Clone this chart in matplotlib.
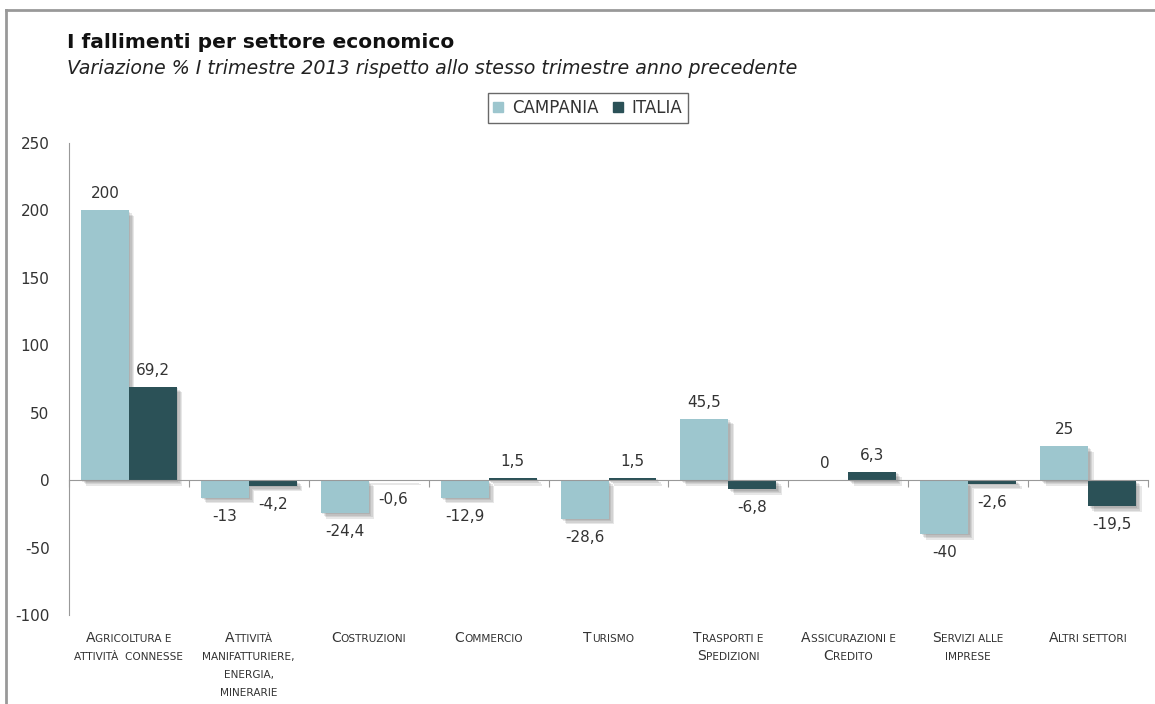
import matplotlib
matplotlib.use("Agg")
import matplotlib.pyplot as plt
import matplotlib.patheffects as pe
from matplotlib import font_manager
from matplotlib.ft2font import FT2Font, Kerning
from matplotlib.lines import Line2D
from matplotlib.transforms import offset_copy

plt.rcParams["font.family"] = ["DejaVu Sans"]
plt.rcParams["axes.unicode_minus"] = False

settori = ["Agricoltura e\nattività  connesse", "Attività\nmanifatturiere,\nenergia,\nminerarie",
           "Costruzioni", "Commercio", "Turismo", "Trasporti e\nSpedizioni",
           "Assicurazioni e\nCredito", "Servizi alle\nimprese", "Altri settori"]
campania = [200, -13, -24.4, -12.9, -28.6, 45.5, 0, -40, 25]
italia = [69.2, -4.2, -0.6, 1.5, 1.5, -6.8, 6.3, -2.6, -19.5]
yticks = [-100, -50, 0, 50, 100, 150, 200, 250]

col_camp = "#9dc6ce"
col_ita = "#2b5157"
testo = "#333333"

fig = plt.figure(figsize=(11.55, 7.04), dpi=100)
ax = fig.add_axes([0.0597, 0.1264, 0.9343, 0.6706])

# ombra morbida: piu' strati sfalsati e trasparenti
ombra = [pe.SimplePatchShadow(offset=(d, -d), shadow_rgbFace="#555555", alpha=0.14)
         for d in (1, 2, 3, 4)] + [pe.Normal()]
x = list(range(len(settori)))
w = 0.4
b1 = ax.bar([i - w / 2 for i in x], campania, w, color=col_camp, path_effects=ombra, zorder=2)
b2 = ax.bar([i + w / 2 for i in x], italia, w, color=col_ita, path_effects=ombra, zorder=2)


def etichetta(v):
    return f"{v:g}".replace(".", ",")


# etichette dei valori sopra/sotto le barre
for barre, valori in ((b1, campania), (b2, italia)):
    for r, v in zip(barre, valori):
        cx = r.get_x() + r.get_width() / 2
        if v >= 0:
            ax.annotate(etichetta(v), (cx, v), xytext=(0, 9), textcoords="offset pixels",
                        ha="center", va="bottom", fontsize=11, color=testo)
        else:
            ax.annotate(etichetta(v), (cx, v), xytext=(0, -11), textcoords="offset pixels",
                        ha="center", va="top", fontsize=11, color=testo)

ax.set_xlim(-0.5, len(settori) - 0.5)
ax.set_ylim(-100, 250)
ax.set_yticks(yticks)
ax.tick_params(axis="y", length=0, pad=14, labelsize=11, labelcolor=testo)
ax.set_xticks([i - 0.5 for i in range(len(settori) + 1)])
ax.tick_params(axis="x", direction="out", length=5, color="#999999", labelbottom=False)
for s in ("top", "right"):
    ax.spines[s].set_visible(False)
ax.spines["bottom"].set_position(("data", 0))
ax.spines["bottom"].set_color("#999999")
ax.spines["bottom"].set_zorder(3)
ax.spines["left"].set_color("#999999")

# nomi dei settori in maiuscoletto: larghezze dagli avanzamenti dei glifi
base = ax.get_xaxis_transform()
font = FT2Font(font_manager.findfont(font_manager.FontProperties(family="DejaVu Sans")))


def avanzamento(s, size):
    font.set_size(size, fig.dpi)
    tot = 0.0
    prec = None
    for c in s:
        g = font.get_char_index(ord(c))
        if prec is not None:
            tot += font.get_kerning(prec, g, Kerning.DEFAULT) / 64
        tot += font.load_char(ord(c)).linearHoriAdvance / 65536
        prec = g
    return tot


def crenatura(a, b, size):
    font.set_size(size, fig.dpi)
    return font.get_kerning(font.get_char_index(ord(a)), font.get_char_index(ord(b)),
                            Kerning.DEFAULT) / 64


def maiuscoletto(xc, riga, testo_riga, grande=10, piccolo=7.6):
    pezzi = []
    for ch in testo_riga:
        size = grande if ch.isupper() else piccolo
        if pezzi and pezzi[-1][1] == size:
            pezzi[-1][0] += ch.upper()
        else:
            pezzi.append([ch.upper(), size])
    larghezze = [avanzamento(s, sz) for s, sz in pezzi]
    for k in range(len(pezzi) - 1):
        larghezze[k] += crenatura(pezzi[k][0][-1], pezzi[k + 1][0][0], piccolo)
    x0 = -sum(larghezze) / 2
    for (s, sz), lw in zip(pezzi, larghezze):
        ax.text(xc, 0, s, fontsize=sz, color=testo, va="baseline", ha="left",
                transform=offset_copy(base, fig, x=x0, y=-(27 + 18 * riga), units="dots"))
        x0 += lw


for i, nome in enumerate(settori):
    for j, riga in enumerate(nome.split("\n")):
        maiuscoletto(i, j, riga)

fig.text(0.058, 0.940, "I fallimenti per settore economico", fontsize=14.5,
         fontweight="bold", color="#111111", va="center")
fig.text(0.058, 0.903, "Variazione % I trimestre 2013 rispetto allo stesso trimestre anno precedente",
         fontsize=13.7, style="italic", color="#222222", va="center")

maniglie = [Line2D([], [], marker="s", ls="none", color=col_camp, markersize=7),
            Line2D([], [], marker="s", ls="none", color=col_ita, markersize=7)]
leg = fig.legend(maniglie, ["CAMPANIA", "ITALIA"], loc="center", bbox_to_anchor=(0.509, 0.847),
                 ncol=2, fancybox=False, edgecolor="#444444", fontsize=12,
                 handlelength=0.6, handletextpad=0.5, columnspacing=0.9, borderpad=0.35)
leg.get_frame().set_linewidth(1.0)
for t in leg.get_texts():
    t.set_color(testo)

# cornice
fig.add_artist(Line2D([6 / 1155, 6 / 1155], [0, 1 - 10 / 704], color="#999999", lw=2))
fig.add_artist(Line2D([6 / 1155, 1], [1 - 10 / 704, 1 - 10 / 704], color="#999999", lw=2))

fig.savefig("out.png", dpi=100)
